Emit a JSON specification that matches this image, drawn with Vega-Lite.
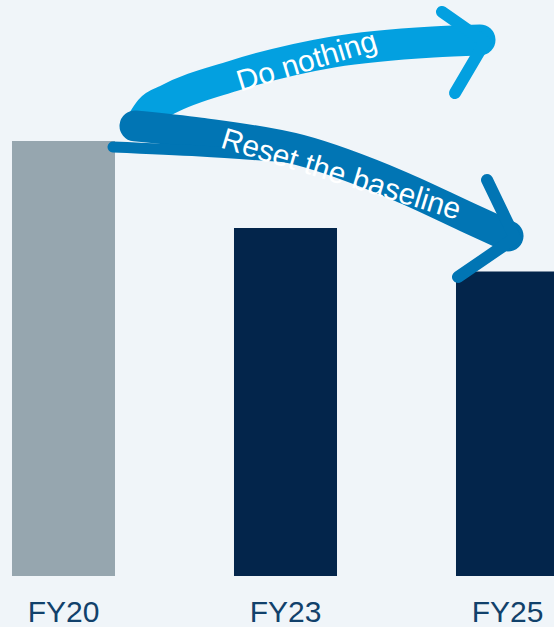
{
  "$schema": "https://vega.github.io/schema/vega-lite/v6.json",
  "width": 554,
  "height": 576,
  "autosize": {"type": "none"},
  "padding": {"left": 0, "top": 0, "right": 0, "bottom": 51},
  "background": "#F0F5F9",
  "config": {"view": {"stroke": null}, "font": "Liberation Sans"},
  "datasets": {
    "bars": [
      {"year": "FY20", "value": 100, "kind": "base"},
      {"year": "FY23", "value": 80, "kind": "target"},
      {"year": "FY25", "value": 70, "kind": "target"}
    ],
    "arrows": [
      {"arrow": "Do nothing", "part": "shaft", "i": 0, "u": 0.3536, "v": 104.37},
      {"arrow": "Do nothing", "part": "shaft", "i": 1, "u": 0.3896, "v": 107.13},
      {"arrow": "Do nothing", "part": "shaft", "i": 2, "u": 0.4662, "v": 109.43},
      {"arrow": "Do nothing", "part": "shaft", "i": 3, "u": 0.7635, "v": 114.94},
      {"arrow": "Do nothing", "part": "shaft", "i": 4, "u": 1.2140, "v": 120.46},
      {"arrow": "Do nothing", "part": "shaft", "i": 5, "u": 1.6644, "v": 122.76},
      {"arrow": "Do nothing", "part": "shaft", "i": 6, "u": 1.8761, "v": 123.22},
      {"arrow": "Do nothing", "part": "head", "i": 0, "u": 1.7050, "v": 129.66},
      {"arrow": "Do nothing", "part": "head", "i": 1, "u": 1.8986, "v": 122.76},
      {"arrow": "Do nothing", "part": "head", "i": 2, "u": 1.7635, "v": 111.03},
      {"arrow": "Reset the baseline", "part": "shaft", "i": 0, "u": 0.3221, "v": 103.45},
      {"arrow": "Reset the baseline", "part": "shaft", "i": 1, "u": 0.6149, "v": 101.80},
      {"arrow": "Reset the baseline", "part": "shaft", "i": 2, "u": 1.0653, "v": 97.90},
      {"arrow": "Reset the baseline", "part": "shaft", "i": 3, "u": 1.5158, "v": 89.60},
      {"arrow": "Reset the baseline", "part": "shaft", "i": 4, "u": 1.8176, "v": 82.50},
      {"arrow": "Reset the baseline", "part": "shaft", "i": 5, "u": 2.0023, "v": 78.16},
      {"arrow": "Reset the baseline", "part": "tail", "i": 0, "u": 0.2230, "v": 98.62},
      {"arrow": "Reset the baseline", "part": "tail", "i": 1, "u": 0.6149, "v": 97.70},
      {"arrow": "Reset the baseline", "part": "tail", "i": 2, "u": 1.0653, "v": 96.09},
      {"arrow": "Reset the baseline", "part": "head", "i": 0, "u": 1.9077, "v": 91.03},
      {"arrow": "Reset the baseline", "part": "head", "i": 1, "u": 2.0338, "v": 77.70},
      {"arrow": "Reset the baseline", "part": "head", "i": 2, "u": 1.7770, "v": 68.74}
    ],
    "labels": [
      {"label": "Do nothing", "u": 1.0968, "v": 118.16},
      {"label": "Reset the baseline", "u": 1.2500, "v": 92.18}
    ]
  },
  "resolve": {"scale": {"x": "independent", "color": "independent"}},
  "layer": [
    {
      "data": {"name": "bars"},
      "mark": {"type": "bar"},
      "encoding": {
        "x": {
          "field": "year", "type": "nominal", "sort": null,
          "scale": {"range": [-47.5, 618.5], "paddingInner": 0.536, "paddingOuter": 0.268},
          "axis": {"title": null, "orient": "bottom", "domain": false, "ticks": false, "labelAngle": 0,
                   "labelFontSize": 30, "labelColor": "#11416B", "labelPadding": 21, "labelFont": "Liberation Sans"}
        },
        "y": {"field": "value", "type": "quantitative",
              "scale": {"domain": [0, 132.4], "nice": false, "zero": true}, "axis": null},
        "color": {"field": "kind", "type": "nominal",
                  "scale": {"domain": ["base", "target"], "range": ["#96A6AF", "#03254B"]}, "legend": null}
      }
    },
    {
      "layer": [
        {
          "data": {"name": "arrows"},
          "transform": [{"filter": "datum.part === 'shaft'"}],
          "mark": {"type": "line", "strokeWidth": 31, "strokeCap": "round", "strokeJoin": "round", "interpolate": "monotone"},
          "encoding": {
            "x": {"field": "u", "type": "quantitative", "scale": {"domain": [-0.28604, 2.20946], "nice": false, "zero": false}, "axis": null},
            "y": {"field": "v", "type": "quantitative", "axis": null},
            "order": {"field": "i"},
            "color": {"field": "arrow", "type": "nominal", "scale": {"domain": ["Do nothing", "Reset the baseline"], "range": ["#03A0E0", "#0175B4"]}, "legend": null}
          }
        },
        {
          "data": {"name": "arrows"},
          "transform": [{"filter": "datum.part === 'tail'"}],
          "mark": {"type": "line", "strokeWidth": 11, "strokeCap": "round", "strokeJoin": "round", "interpolate": "monotone"},
          "encoding": {
            "x": {"field": "u", "type": "quantitative"},
            "y": {"field": "v", "type": "quantitative"},
            "order": {"field": "i"},
            "color": {"field": "arrow", "type": "nominal", "legend": null}
          }
        },
        {
          "data": {"name": "arrows"},
          "transform": [{"filter": "datum.part === 'head'"}],
          "mark": {"type": "line", "strokeWidth": 12, "strokeCap": "round", "strokeJoin": "miter"},
          "encoding": {
            "x": {"field": "u", "type": "quantitative"},
            "y": {"field": "v", "type": "quantitative"},
            "order": {"field": "i"},
            "color": {"field": "arrow", "type": "nominal", "legend": null}
          }
        },
        {
          "data": {"name": "labels"},
          "transform": [{"filter": "datum.label === 'Do nothing'"}],
          "mark": {"type": "text", "angle": -17, "fontSize": 30, "color": "white", "font": "Liberation Sans", "align": "center", "baseline": "middle"},
          "encoding": {
            "x": {"field": "u", "type": "quantitative"},
            "y": {"field": "v", "type": "quantitative"},
            "text": {"field": "label"}
          }
        },
        {
          "data": {"name": "labels"},
          "transform": [{"filter": "datum.label === 'Reset the baseline'"}],
          "mark": {"type": "text", "angle": 17, "fontSize": 30, "color": "white", "font": "Liberation Sans", "align": "center", "baseline": "middle"},
          "encoding": {
            "x": {"field": "u", "type": "quantitative"},
            "y": {"field": "v", "type": "quantitative"},
            "text": {"field": "label"}
          }
        }
      ]
    }
  ]
}
